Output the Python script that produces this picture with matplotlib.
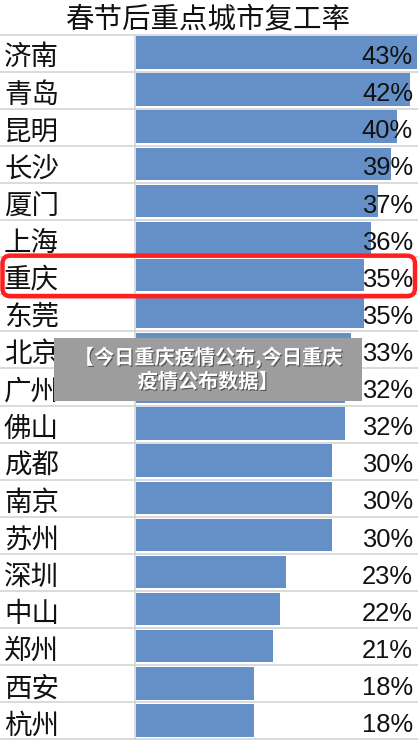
import matplotlib
matplotlib.use("Agg")
import matplotlib.pyplot as plt
from matplotlib.lines import Line2D
from matplotlib.patches import FancyBboxPatch, Rectangle
from matplotlib.transforms import blended_transform_factory
import matplotlib.patheffects as pe

plt.rcParams['font.family'] = ['Noto Sans CJK SC', 'DejaVu Sans']

title = "春节后重点城市复工率"
cities = ["济南", "青岛", "昆明", "长沙", "厦门", "上海", "重庆", "东莞", "北京", "广州",
          "佛山", "成都", "南京", "苏州", "深圳", "中山", "郑州", "西安", "杭州"]
rates = [43, 42, 40, 39, 37, 36, 35, 35, 33, 32, 32, 30, 30, 30, 23, 22, 21, 18, 18]
highlight = "重庆"
overlay_text = "【今日重庆疫情公布,今日重庆\n疫情公布数据】"

W, H = 418, 741
fig = plt.figure(figsize=(W / 100, H / 100), dpi=100)
fig.patch.set_facecolor("white")

top_px, bot_px = 34.5, 739.5
left_px = 136
n = len(cities)

ax = fig.add_axes([left_px / W, 1 - bot_px / H, (W - left_px) / W, (bot_px - top_px) / H])
ax.set_zorder(2)
ax.set_xlim(0, 43.2)
ax.set_ylim(n, 0)
ax.axis("off")

ypos = [i + 0.5 for i in range(n)]
ax.barh([y - 0.015 for y in ypos], rates, height=0.875, color="#6590C7", zorder=2)

# full-width grid lines
tr = blended_transform_factory(fig.transFigure, ax.transData)
for i in range(n + 1):
    fig.add_artist(Line2D([0, 1], [i, i], transform=tr, color="#d4d4d4", lw=1.2, zorder=1))
fig.add_artist(Line2D([134.7 / W, 134.7 / W], [0, n], transform=tr, color="#d4d4d4", lw=1.2, zorder=1))

for y, c, r in zip(ypos, cities, rates):
    ax.text(4 / W, y + 0.13, c, transform=tr, ha="left", va="center",
            fontsize=19.8, color="#111111")
    ax.text(413 / W, y + 0.11, f"{r}%", transform=tr, ha="right", va="center",
            fontsize=18.4, color="#111111",
            family=['Liberation Sans Narrow', 'Liberation Sans', 'DejaVu Sans'], zorder=5)

fig.text(208 / W, 1 - 20 / H, title, ha="center", va="center", fontsize=20.5, color="#111111")

# overlay axes in pixel coordinates
ov = fig.add_axes([0, 0, 1, 1])
ov.set_zorder(10)
ov.set_xlim(0, W)
ov.set_ylim(H, 0)
ov.axis("off")
ov.patch.set_alpha(0)

# red highlight box around the highlighted row
idx = cities.index(highlight)
inv = ov.transData.inverted()
(_, ytop) = inv.transform(ax.transData.transform((0, idx)))
(_, ybot) = inv.transform(ax.transData.transform((0, idx + 1)))
pad = 5
ov.add_patch(FancyBboxPatch((2.5 + pad, ytop - 1.5 + pad), 412.5 - 2 * pad, (ybot - ytop) + 3.5 - 2 * pad,
                            boxstyle=f"round,pad={pad},rounding_size=8",
                            fill=False, edgecolor="#ff1f1f", lw=3.2, zorder=10))

# grey caption box
ov.add_patch(Rectangle((54, 338), 308, 63, facecolor="#9d9d9d", edgecolor="none", zorder=11))
for k, line in enumerate(overlay_text.split("\n")):
    ov.text(208, 357.5 + k * 24, line, ha="center", va="center", fontsize=14.5,
            fontweight="bold", color="white", zorder=12,
            path_effects=[pe.withSimplePatchShadow(offset=(0.8, -0.8), shadow_rgbFace="#333333", alpha=0.7)])

fig.savefig("out.png", dpi=100)
